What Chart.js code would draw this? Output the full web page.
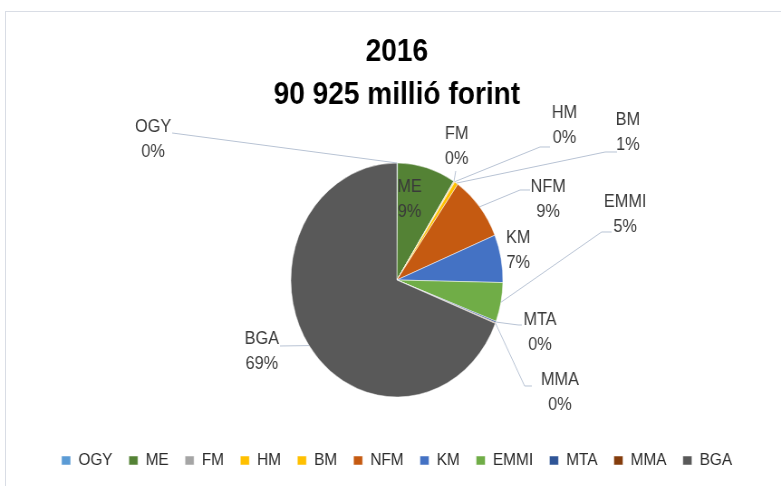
<!DOCTYPE html>
<html>
<head>
<meta charset="utf-8">
<script src="https://cdn.jsdelivr.net/npm/chart.js@4.4.1/dist/chart.umd.min.js"></script>
<style>
    body { margin: 0; background: #fff; }
    .wrap { position: relative; width: 781px; height: 486px; overflow: hidden; }
    .frame { position: absolute; left: 5px; top: 11px; width: 820px; height: 520px; border: 1px solid #d9dde5; }
    #myPieChart { position: absolute; left: 0; top: 0; }
</style>
</head>
<body>
<div class="wrap">
    <div class="frame"></div>
    <!-- drawn wider, then squeezed to 781px like the original picture -->
    <canvas id="myPieChart" width="862" height="486" style="width:781px;height:486px"></canvas>
</div>
<script>
const titleLines = ['2016', '90 925 millió forint'];
const labels = ['OGY', 'ME', 'FM', 'HM', 'BM', 'NFM', 'KM', 'EMMI', 'MTA', 'MMA', 'BGA'];
const shares = [0.1, 8.9, 0.1, 0.1, 0.55, 9.0, 6.6, 5.4, 0.2, 0.1, 68.95]; // % of total
const colors = ['#5b9bd5', '#548235', '#a5a5a5', '#ffc000', '#ffc000', '#c55a11',
                '#4472c4', '#70ad47', '#2f5597', '#843c0c', '#595959'];

// label block centre, relative to the pie centre (canvas units)
const labelOffsets = [
    [-269, -140], [14, -80], [66, -133], [185, -154], [255, -147], [167, -80],
    [134, -29], [252, -65], [158, 53], [180, 113], [-149, 72]
];
// leader line bends (relative to pie centre), starting from the slice edge
const leaderPaths = [
    [[-248, -147]], null, [[65, -109]], [[158, -133], [169, -133]],
    [[230, -128], [243, -128]], [[136, -90], [147, -90]], null,
    [[226, -48], [237, -48]], [[134, 45], [138, 45]], [[141, 106], [149, 106]],
    [[-129, 66]]
];

const outsideLabels = {
    id: 'outsideLabels',
    afterDatasetsDraw(chart) {
        const ctx = chart.ctx;
        const meta = chart.getDatasetMeta(0);
        const total = shares.reduce((a, b) => a + b, 0);
        ctx.save();
        meta.data.forEach((arc, i) => {
            const p = arc.getProps(['x', 'y', 'startAngle', 'endAngle', 'outerRadius'], true);
            const mid = (p.startAngle + p.endAngle) / 2;
            const path = leaderPaths[i];
            if (path) {
                ctx.strokeStyle = '#b8c3d4';
                ctx.lineWidth = 1;
                ctx.beginPath();
                ctx.moveTo(p.x + Math.cos(mid) * p.outerRadius, p.y + Math.sin(mid) * p.outerRadius);
                path.forEach(pt => ctx.lineTo(p.x + pt[0], p.y + pt[1]));
                ctx.stroke();
            }
            const tx = p.x + labelOffsets[i][0];
            const ty = p.y + labelOffsets[i][1];
            ctx.fillStyle = '#3a3a3a';
            ctx.font = '18px "Liberation Sans", Arial, sans-serif';
            ctx.textAlign = 'center';
            ctx.textBaseline = 'middle';
            ctx.fillText(labels[i], tx, ty - 12.5);
            ctx.fillText(Math.round(shares[i] / total * 100) + '%', tx, ty + 12.5);
        });
        ctx.restore();
    }
};

document.addEventListener('DOMContentLoaded', function () {
    const ctx = document.getElementById('myPieChart').getContext('2d');

    const data = {
        labels: labels,
        datasets: [{
            data: shares,
            backgroundColor: colors,
            borderColor: '#ffffff',
            borderWidth: 0.5
        }]
    };

    const config = {
        type: 'pie',
        data: data,
        options: {
            responsive: false,
            animation: false,
            radius: 117,
            layout: { padding: { left: 14, right: 0, top: 0, bottom: 7 } },
            plugins: {
                title: {
                    display: true,
                    text: titleLines,
                    color: '#000',
                    font: { family: '"Liberation Sans", Arial, sans-serif', size: 31, weight: 'bold', lineHeight: 1.387 },
                    padding: { top: 30.5, bottom: 9.5 }
                },
                legend: {
                    position: 'bottom',
                    labels: {
                        boxWidth: 10,
                        boxHeight: 9,
                        padding: 18,
                        color: '#2b2b2b',
                        font: { family: '"Liberation Sans", Arial, sans-serif', size: 17 }
                    }
                },
                tooltip: { enabled: false }
            }
        },
        plugins: [outsideLabels]
    };

    new Chart(ctx, config);
});
</script>
</body>
</html>
